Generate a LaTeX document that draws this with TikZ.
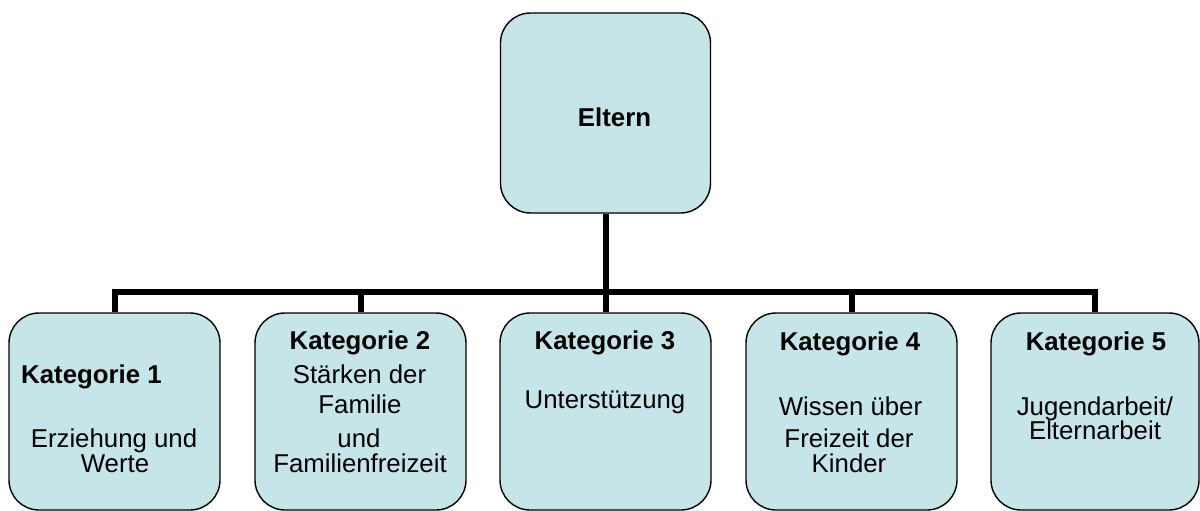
\documentclass[tikz,border=0pt]{standalone}
\usepackage{fontspec}
\setmainfont{Liberation Sans}
\definecolor{boxfill}{RGB}{198,229,233}
\begin{document}
\begin{tikzpicture}[x=1pt,y=-1pt,
  catbox/.style={draw=black, line width=1.4pt, fill=boxfill, rounded corners=30pt, inner sep=0pt},
  conn/.style={draw=black, line width=6pt, line join=miter},
  lbl/.style={inner sep=0pt, anchor=base, font=\fontsize{25.8}{30}\selectfont},
  blbl/.style={lbl, font=\fontsize{25.8}{30}\selectfont\bfseries}]
\useasboundingbox (0,0) rectangle (1200,511);
% boxes
\node[catbox, minimum width=210pt, minimum height=200pt] (eltern) at (605.5,113) {};
\node[catbox, minimum width=211pt, minimum height=197pt] (k1) at (114.5,411.5) {};
\node[catbox, minimum width=211pt, minimum height=197pt] (k2) at (360.5,411.5) {};
\node[catbox, minimum width=211pt, minimum height=197pt] (k3) at (605.5,411.5) {};
\node[catbox, minimum width=211pt, minimum height=197pt] (k4) at (851.5,411.5) {};
\node[catbox, minimum width=208pt, minimum height=197pt] (k5) at (1095,411.5) {};
% connectors
\coordinate (bus) at (605.5,292);
\draw[conn] (eltern.south) -- (k3.north);
\draw[conn] (k1.north) |- (bus) -| (k5.north);
\draw[conn] (k2.north) -- (k2.north |- bus);
\draw[conn] (k4.north) -- (k4.north |- bus);
% texts
\node[blbl] (teltern) at (614.5,126) {Eltern};
\node[blbl, anchor=base west] (t1a) at (21,383) {Kategorie 1};
\node[lbl] (t1b) at (114,447) {Erziehung und};
\node[lbl] (t1c) at (115,472) {Werte};
\node[blbl] (t2a) at (360,349) {Kategorie 2};
\node[lbl] (t2b) at (359.5,383) {Stärken der};
\node[lbl] (t2c) at (360,413) {Familie};
\node[lbl] (t2d) at (359,447) {und};
\node[lbl] (t2e) at (360,472) {Familienfreizeit};
\node[blbl] (t3a) at (605,349) {Kategorie 3};
\node[lbl] (t3b) at (605,408) {Unterstützung};
\node[blbl] (t4a) at (850,350) {Kategorie 4};
\node[lbl] (t4b) at (850.5,415) {Wissen über};
\node[lbl] (t4c) at (849,447) {Freizeit der};
\node[lbl] (t4d) at (849,472) {Kinder};
\node[blbl] (t5a) at (1096,350) {Kategorie 5};
\node[lbl] (t5b) at (1095,415) {Jugendarbeit/};
\node[lbl] (t5c) at (1095,439) {Elternarbeit};
\end{tikzpicture}
\end{document}
